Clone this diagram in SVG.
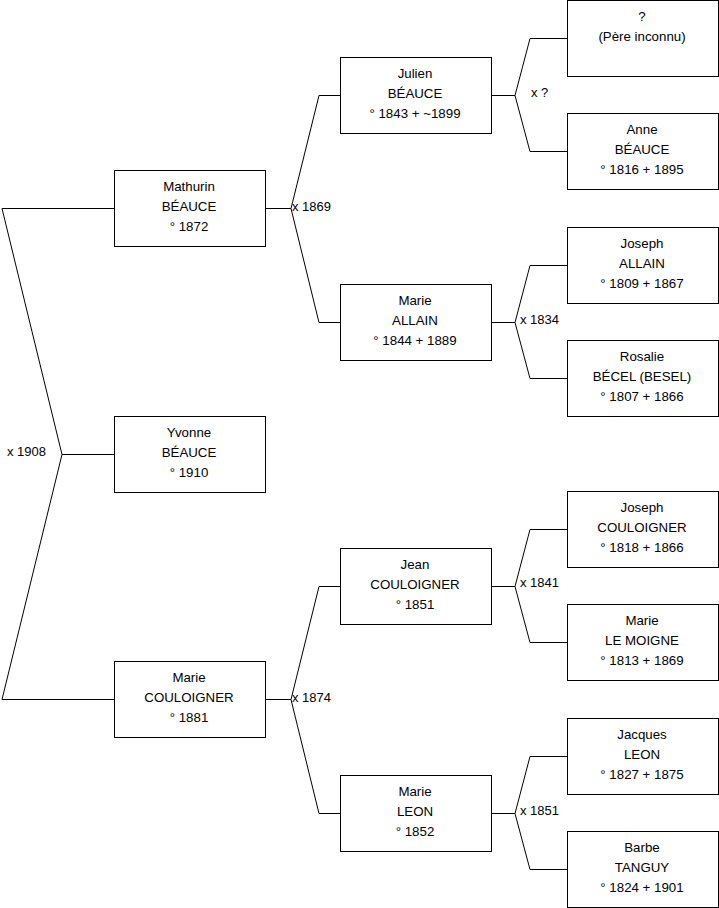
<svg xmlns="http://www.w3.org/2000/svg" width="719" height="908" viewBox="0 0 719 908">
<style>
.box{fill:#fff;stroke:#000;stroke-width:1}
.t{font-family:"Liberation Sans",Arial,sans-serif;font-size:13.3px;fill:#000;text-anchor:middle}
.l{font-family:"Liberation Sans",Arial,sans-serif;font-size:13px;fill:#000}
.c{fill:none;stroke:#000;stroke-width:1}
</style>
<rect width="719" height="908" fill="#fff"/>
<g id="connectors">
<polyline class="c" points="114,208.5 2,208.5 62,454.5 2,699.5 114,699.5"/>
<line class="c" x1="62" y1="454.5" x2="114" y2="454.5"/>
<text class="l" x="7" y="456">x 1908</text>
<line class="c" x1="265" y1="208.5" x2="291" y2="208.5"/>
<polyline class="c" points="340,95.5 319,95.5 291,208.5 319,322.5 340,322.5"/>
<text class="l" x="292" y="211">x 1869</text>
<line class="c" x1="265" y1="699.5" x2="291" y2="699.5"/>
<polyline class="c" points="340,586.5 319,586.5 291,699.5 319,813.5 340,813.5"/>
<text class="l" x="292" y="702">x 1874</text>
<line class="c" x1="491" y1="95.5" x2="515" y2="95.5"/>
<polyline class="c" points="567,38.5 530,38.5 515,95.5 530,151.5 567,151.5"/>
<text class="l" x="531" y="97">x ?</text>
<line class="c" x1="491" y1="322.5" x2="515" y2="322.5"/>
<polyline class="c" points="567,265.5 530,265.5 515,322.5 530,378.5 567,378.5"/>
<text class="l" x="520" y="324">x 1834</text>
<line class="c" x1="491" y1="586.5" x2="515" y2="586.5"/>
<polyline class="c" points="567,529.5 530,529.5 515,586.5 530,642.5 567,642.5"/>
<text class="l" x="520" y="587">x 1841</text>
<line class="c" x1="491" y1="813.5" x2="515" y2="813.5"/>
<polyline class="c" points="567,756.5 530,756.5 515,813.5 530,869.5 567,869.5"/>
<text class="l" x="520" y="815">x 1851</text>
</g>
<g id="mathurin"><rect class="box" x="114.5" y="170.5" width="151" height="76"/>
<text class="t" x="189" y="191">Mathurin</text><text class="t" x="189" y="211">BÉAUCE</text><text class="t" x="189" y="231">° 1872</text></g>
<g id="yvonne"><rect class="box" x="114.5" y="416.5" width="151" height="76"/>
<text class="t" x="189" y="437">Yvonne</text><text class="t" x="189" y="457">BÉAUCE</text><text class="t" x="189" y="477">° 1910</text></g>
<g id="marie-couloigner"><rect class="box" x="114.5" y="661.5" width="151" height="76"/>
<text class="t" x="189" y="682">Marie</text><text class="t" x="189" y="702">COULOIGNER</text><text class="t" x="189" y="722">° 1881</text></g>
<g id="julien"><rect class="box" x="340.5" y="57.5" width="151" height="76"/>
<text class="t" x="415" y="78">Julien</text><text class="t" x="415" y="98">BÉAUCE</text><text class="t" x="415" y="118">° 1843 + ~1899</text></g>
<g id="marie-allain"><rect class="box" x="340.5" y="284.5" width="151" height="76"/>
<text class="t" x="415" y="305">Marie</text><text class="t" x="415" y="325">ALLAIN</text><text class="t" x="415" y="345">° 1844 + 1889</text></g>
<g id="jean"><rect class="box" x="340.5" y="548.5" width="151" height="76"/>
<text class="t" x="415" y="569">Jean</text><text class="t" x="415" y="589">COULOIGNER</text><text class="t" x="415" y="609">° 1851</text></g>
<g id="marie-leon"><rect class="box" x="340.5" y="775.5" width="151" height="76"/>
<text class="t" x="415" y="796">Marie</text><text class="t" x="415" y="816">LEON</text><text class="t" x="415" y="836">° 1852</text></g>
<g id="pere-inconnu"><rect class="box" x="567.5" y="0.5" width="151" height="76"/>
<text class="t" x="642" y="21">?</text><text class="t" x="642" y="41">(Père inconnu)</text></g>
<g id="anne"><rect class="box" x="567.5" y="113.5" width="151" height="76"/>
<text class="t" x="642" y="134">Anne</text><text class="t" x="642" y="154">BÉAUCE</text><text class="t" x="642" y="174">° 1816 + 1895</text></g>
<g id="joseph-allain"><rect class="box" x="567.5" y="227.5" width="151" height="76"/>
<text class="t" x="642" y="248">Joseph</text><text class="t" x="642" y="268">ALLAIN</text><text class="t" x="642" y="288">° 1809 + 1867</text></g>
<g id="rosalie"><rect class="box" x="567.5" y="340.5" width="151" height="76"/>
<text class="t" x="642" y="361">Rosalie</text><text class="t" x="642" y="381">BÉCEL (BESEL)</text><text class="t" x="642" y="401">° 1807 + 1866</text></g>
<g id="joseph-couloigner"><rect class="box" x="567.5" y="491.5" width="151" height="76"/>
<text class="t" x="642" y="512">Joseph</text><text class="t" x="642" y="532">COULOIGNER</text><text class="t" x="642" y="552">° 1818 + 1866</text></g>
<g id="marie-le-moigne"><rect class="box" x="567.5" y="604.5" width="151" height="76"/>
<text class="t" x="642" y="625">Marie</text><text class="t" x="642" y="645">LE MOIGNE</text><text class="t" x="642" y="665">° 1813 + 1869</text></g>
<g id="jacques"><rect class="box" x="567.5" y="718.5" width="151" height="76"/>
<text class="t" x="642" y="739">Jacques</text><text class="t" x="642" y="759">LEON</text><text class="t" x="642" y="779">° 1827 + 1875</text></g>
<g id="barbe"><rect class="box" x="567.5" y="831.5" width="151" height="76"/>
<text class="t" x="642" y="852">Barbe</text><text class="t" x="642" y="872">TANGUY</text><text class="t" x="642" y="892">° 1824 + 1901</text></g>
</svg>
